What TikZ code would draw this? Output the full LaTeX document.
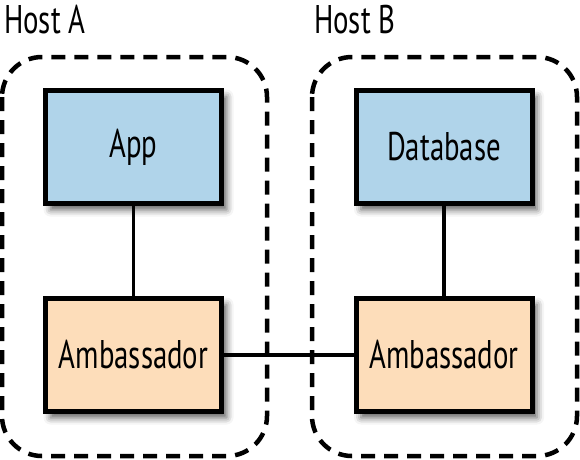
\documentclass[tikz,border=0pt]{standalone}
\usepackage{fontspec}
\setmainfont[FakeStretch=0.72]{PT Sans}
\usetikzlibrary{shadows.blur}

\begin{document}
\begin{tikzpicture}[x=1pt,y=-1pt]
     % Define colors
        \definecolor{boxBlue}{RGB}{176, 212, 234} % Light Blue
        \definecolor{boxOrange}{RGB}{253, 221, 186} % Light Orange

        \tikzset{
            hostbox/.style={draw, line width=4.5pt, dash pattern=on 14pt off 9pt, rounded corners=40pt},
            compbox/.style={draw, line width=5pt, minimum width=176pt, minimum height=113pt,
                blur shadow={shadow xshift=5pt, shadow yshift=-6pt, shadow blur radius=7pt, shadow opacity=65},
                font=\fontsize{40}{44}\selectfont},
            hostlabel/.style={anchor=base west, inner sep=0pt, font=\fontsize{40}{44}\selectfont},
            link/.style={line width=3.5pt}
        }

        \useasboundingbox (0,0) rectangle (580,459);

        % Draw the two hosts
        \draw[hostbox] (2,57) rectangle (267,456); % Host A
        \draw[hostbox] (312,57) rectangle (577,456); % Host B

        % Add host labels
        \node[hostlabel] (hostA) at (4,33) {Host A};
        \node[hostlabel] (hostB) at (314,33) {Host B};

        % Draw the components
        \node[compbox, fill=boxBlue] (app) at (133.5,147) {App};
        \node[compbox, fill=boxOrange] (ambA) at (133.5,355) {Ambassador};
        \node[compbox, fill=boxBlue] (db) at (444,147) {Database};
        \node[compbox, fill=boxOrange] (ambB) at (444,355) {Ambassador};

        % Connect them
        \draw[link] (app) -- (ambA);
        \draw[link] (db) -- (ambB);
        \draw[link] (ambA) -- (ambB);
    \end{tikzpicture}
\end{document}
